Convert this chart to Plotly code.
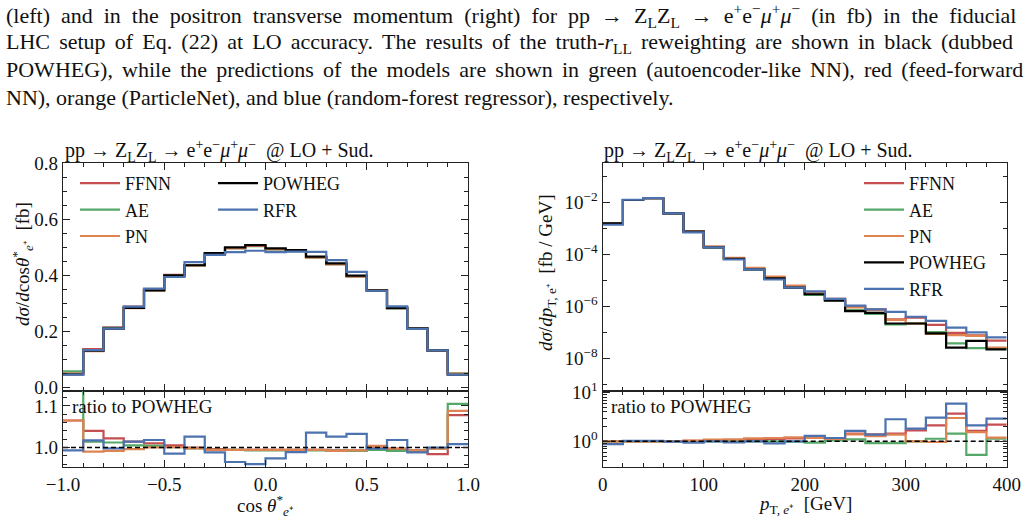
import plotly.graph_objects as go

W, H = 1032, 520

# ---------------- data ----------------
cos_edges = [-1.0, -0.9, -0.8, -0.7, -0.6, -0.5, -0.4, -0.3, -0.2, -0.1, 0.0,
             0.1, 0.2, 0.3, 0.4, 0.5, 0.6, 0.7, 0.8, 0.9, 1.0]
cos_powheg = [0.045, 0.130, 0.209, 0.283, 0.345, 0.399, 0.435, 0.478, 0.499, 0.507,
              0.495, 0.489, 0.466, 0.442, 0.398, 0.345, 0.283, 0.210, 0.131, 0.044]
cos_ratio_ffnn = [1.065, 1.040, 1.022, 1.014, 1.010, 1.005, 1.000, 0.996, 0.994, 0.994,
                  0.994, 0.994, 0.994, 0.993, 0.993, 1.002, 0.994, 0.993, 0.984, 1.078]
cos_ratio_ae = [1.250, 1.014, 1.012, 1.005, 1.004, 1.001, 0.998, 0.994, 0.994, 0.993,
                0.993, 0.993, 0.993, 0.992, 0.992, 0.994, 0.992, 0.992, 0.997, 1.105]
cos_ratio_pn = [1.065, 0.990, 0.992, 0.996, 1.000, 1.001, 0.998, 0.994, 0.994, 0.994,
                0.994, 0.994, 0.994, 0.992, 0.993, 1.004, 0.998, 0.993, 0.997, 1.088]
cos_ratio_rfr = [0.993, 1.017, 0.998, 1.014, 1.018, 0.985, 1.026, 0.988, 0.965, 0.960,
                 0.974, 0.989, 1.036, 1.026, 1.033, 0.997, 1.018, 0.988, 1.000, 1.008]

pt_edges = [0, 20, 40, 60, 80, 100, 120, 140, 160, 180, 200,
            220, 240, 260, 280, 300, 320, 340, 360, 380, 400]
pt_powheg = [1.6e-3, 1.27e-2, 1.48e-2, 3.9e-3, 7.6e-4, 1.9e-4, 6.8e-5, 2.7e-5, 1.2e-5, 5.3e-6,
             2.95e-6, 1.66e-6, 6.6e-7, 5.6e-7, 2.2e-7, 2.2e-7, 9.1e-8, 2.6e-8, 4.7e-8, 2.2e-8]
pt_ratio_ffnn = [1.0, 1.0, 1.0, 1.0, 1.02, 1.03, 1.06, 1.10, 1.12, 1.15,
                 1.17, 1.17, 1.44, 1.39, 1.44, 1.68, 2.13, 3.70, 1.63, 2.20]
pt_ratio_ae = [1.0, 1.0, 1.0, 1.0, 1.0, 1.0, 1.0, 1.0, 1.0, 0.98,
               0.94, 1.05, 1.10, 0.92, 0.92, 1.0, 1.13, 1.44, 0.53, 1.13]
pt_ratio_pn = [1.0, 1.0, 1.0, 1.0, 1.03, 1.08, 1.10, 1.15, 1.17, 1.21,
               1.17, 1.12, 1.39, 1.28, 1.37, 1.0, 0.97, 3.0, 1.55, 1.19]
pt_ratio_rfr = [0.88, 1.02, 1.02, 0.99, 0.94, 1.0, 0.95, 1.0, 0.91, 1.0,
                1.29, 1.17, 1.63, 1.37, 2.83, 1.82, 3.06, 5.90, 2.13, 2.92]

names = ["FFNN", "AE", "PN", "POWHEG", "RFR"]
colors = {"FFNN": "#c44e52", "AE": "#55a868", "PN": "#dd8452",
          "POWHEG": "#000000", "RFR": "#4c72b0"}

FONT = "Liberation Serif, Times New Roman, serif"


def px_x(p):
    return p / W


def px_y(p):
    return 1 - p / H


def step_xy(edges, vals):
    return list(edges), list(vals) + [vals[-1]]


fig = go.Figure()

panels = [
    dict(edges=cos_edges, pow=cos_powheg,
         ratios={"FFNN": cos_ratio_ffnn, "AE": cos_ratio_ae, "PN": cos_ratio_pn, "RFR": cos_ratio_rfr},
         xm="x", ym="y", xr="x2", yr="y2", legends={"FFNN": "legend", "AE": "legend", "PN": "legend",
                                                  "POWHEG": "legend2", "RFR": "legend2"}),
    dict(edges=pt_edges, pow=pt_powheg,
         ratios={"FFNN": pt_ratio_ffnn, "AE": pt_ratio_ae, "PN": pt_ratio_pn, "RFR": pt_ratio_rfr},
         xm="x3", ym="y3", xr="x4", yr="y4", legends={n: "legend3" for n in names}),
]

for p in panels:
    for n in names:
        if n == "POWHEG":
            vals = p["pow"]
        else:
            vals = [a * b for a, b in zip(p["pow"], p["ratios"][n])]
        xs, ys = step_xy(p["edges"], vals)
        fig.add_trace(go.Scatter(x=xs, y=ys, mode="lines", line_shape="hv",
                                 line=dict(color=colors[n], width=2.2), name=n,
                                 xaxis=p["xm"], yaxis=p["ym"], legend=p["legends"][n],
                                 showlegend=True))
    for n in ["FFNN", "AE", "PN", "RFR"]:
        xs, ys = step_xy(p["edges"], p["ratios"][n])
        fig.add_trace(go.Scatter(x=xs, y=ys, mode="lines", line_shape="hv",
                                 line=dict(color=colors[n], width=2.2), name=n,
                                 xaxis=p["xr"], yaxis=p["yr"], showlegend=False))
    fig.add_trace(go.Scatter(x=[p["edges"][0], p["edges"][-1]], y=[1, 1], mode="lines",
                             line=dict(color="black", width=1.5, dash="5px,3px"),
                             xaxis=p["xr"], yaxis=p["yr"], showlegend=False))

axis_common = dict(showline=True, linecolor="#222222", linewidth=1.3, mirror="allticks",
                   ticks="inside", ticklen=7, tickwidth=1.1, tickcolor="#222222",
                   showgrid=False, zeroline=False,
                   tickfont=dict(family=FONT, size=19, color="#111111"))
minor_common = dict(ticks="inside", ticklen=4, tickwidth=1, tickcolor="#222222", showgrid=False)

LX = [px_x(63), px_x(468)]
RX = [px_x(602.7), px_x(1006.7)]
MAINY = [px_y(391), px_y(163)]
RATY = [px_y(467), px_y(391)]

fig.update_layout(
    xaxis=dict(axis_common, domain=LX, range=[-1, 1], anchor="y", showticklabels=False,
               dtick=0.5, tick0=-1, minor=dict(minor_common, dtick=0.1, tick0=-1)),
    yaxis=dict(axis_common, domain=MAINY, range=[-0.014, 0.8], anchor="x",
               tickvals=[0, 0.2, 0.4, 0.6, 0.8], ticktext=["0.0", "0.2", "0.4", "0.6", "0.8"],
               minor=dict(minor_common, dtick=0.05, tick0=0)),
    xaxis2=dict(axis_common, domain=LX, range=[-1, 1], anchor="y2",
                tickvals=[-1, -0.5, 0, 0.5, 1], ticktext=["−1.0", "−0.5", "0.0", "0.5", "1.0"],
                minor=dict(minor_common, dtick=0.1, tick0=-1)),
    yaxis2=dict(axis_common, domain=RATY, range=[0.953, 1.136], anchor="x2",
                tickvals=[1.0, 1.1], ticktext=["1.0", "1.1"],
                minor=dict(minor_common, dtick=0.02, tick0=1.0)),
    xaxis3=dict(axis_common, domain=RX, range=[0, 400], anchor="y3", showticklabels=False,
                dtick=100, tick0=0, minor=dict(minor_common, dtick=20, tick0=0)),
    yaxis3=dict(axis_common, domain=MAINY, type="log", range=[-9.26, -0.47], anchor="x3",
                tickvals=[1e-8, 1e-6, 1e-4, 1e-2],
                ticktext=["10<sup>−8</sup>", "10<sup>−6</sup>", "10<sup>−4</sup>", "10<sup>−2</sup>"],
                minor=dict(minor_common, tickmode="array", tickvals=[1e-9, 1e-7, 1e-5, 1e-3, 1e-1])),
    xaxis4=dict(axis_common, domain=RX, range=[0, 400], anchor="y4",
                tickvals=[0, 100, 200, 300, 400], ticktext=["0", "100", "200", "300", "400"],
                minor=dict(minor_common, dtick=20, tick0=0)),
    yaxis4=dict(axis_common, domain=RATY, type="log", range=[-0.525, 1.03], anchor="x4",
                tickvals=[1, 10], ticktext=["10<sup>0</sup>", "10<sup>1</sup>"],
                minor=dict(minor_common, tickmode="array",
                           tickvals=[0.3, 0.4, 0.5, 0.6, 0.7, 0.8, 0.9, 2, 3, 4, 5, 6, 7, 8, 9])),
)

leg_common = dict(bgcolor="rgba(0,0,0,0)", borderwidth=0, xanchor="left", yanchor="top",
                  font=dict(family=FONT, size=18, color="#111111"), itemwidth=40,
                  tracegroupgap=0, orientation="v")
fig.update_layout(
    legend=dict(leg_common, x=px_x(75), y=px_y(165)),
    legend2=dict(leg_common, x=px_x(213), y=px_y(165)),
    legend3=dict(leg_common, x=px_x(859), y=px_y(165)),
)

annots = []
S4 = "\u2005"  # four-per-em space
S6 = "\u2006"  # six-per-em space


def widen(t, extra):
    return t.replace(" ", " " + extra)


cap_lines = [
    widen("(left) and in the positron transverse momentum (right) for pp → Z<sub>L</sub>Z<sub>L</sub> → "
          "e<sup>+</sup>e<sup>−</sup><i>μ</i><sup>+</sup><i>μ</i><sup>−</sup> (in fb) in the fiducial", S4),
    widen("LHC setup of Eq. (22) at LO accuracy. The results of the truth-<i>r</i><sub>LL</sub> reweighting "
          "are shown in black (dubbed", S6),
    widen("POWHEG), while the predictions of the models are shown in green (autoencoder-like NN), red (feed-forward", S6),
    "NN), orange (ParticleNet), and blue (random-forest regressor), respectively.",
]
for i, t in enumerate(cap_lines):
    annots.append(dict(text=t, x=px_x(4), y=px_y(15 + 27.5 * i), xref="paper", yref="paper",
                       xanchor="left", yanchor="middle", showarrow=False,
                       font=dict(family=FONT, size=22, color="#111111")))

title_txt = ("pp → Z<sub>L</sub>Z<sub>L</sub> → e<sup>+</sup>e<sup>−</sup><i>μ</i><sup>+</sup>"
             "<i>μ</i><sup>−</sup>  @ LO + Sud.")
for x0 in (63, 602):
    annots.append(dict(text=title_txt, x=px_x(x0), y=px_y(151), xref="paper", yref="paper",
                       xanchor="left", yanchor="middle", showarrow=False,
                       font=dict(family=FONT, size=20, color="#111111")))
for x0 in (70, 609):
    annots.append(dict(text="ratio to POWHEG", x=px_x(x0), y=px_y(406), xref="paper", yref="paper",
                       xanchor="left", yanchor="middle", showarrow=False,
                       font=dict(family=FONT, size=19, color="#111111")))

annots.append(dict(text="<i>dσ</i>/<i>d</i>cos<i>θ</i><sup>*</sup><sub><i>e</i>⁺</sub>  [fb]",
                   x=px_x(22), y=px_y(264), xref="paper", yref="paper", textangle=-90,
                   xanchor="center", yanchor="middle", showarrow=False,
                   font=dict(family=FONT, size=19, color="#111111")))
annots.append(dict(text="<i>dσ</i>/<i>dp</i><sub>T, e⁺</sub>  [fb / GeV]",
                   x=px_x(547), y=px_y(273), xref="paper", yref="paper", textangle=-90,
                   xanchor="center", yanchor="middle", showarrow=False,
                   font=dict(family=FONT, size=19, color="#111111")))
annots.append(dict(text="cos <i>θ</i><sup>*</sup><sub><i>e</i>⁺</sub>",
                   x=px_x(265), y=px_y(505), xref="paper", yref="paper",
                   xanchor="center", yanchor="middle", showarrow=False,
                   font=dict(family=FONT, size=19, color="#111111")))
annots.append(dict(text="<i>p</i><sub>T, <i>e</i>⁺</sub>  [GeV]",
                   x=px_x(805), y=px_y(505), xref="paper", yref="paper",
                   xanchor="center", yanchor="middle", showarrow=False,
                   font=dict(family=FONT, size=19, color="#111111")))

fig.update_layout(annotations=annots, width=W, height=H,
                  margin=dict(l=0, r=0, t=0, b=0, autoexpand=False),
                  plot_bgcolor="white", paper_bgcolor="white",
                  font=dict(family=FONT, size=19, color="#111111"))

fig.write_html("out.html")
